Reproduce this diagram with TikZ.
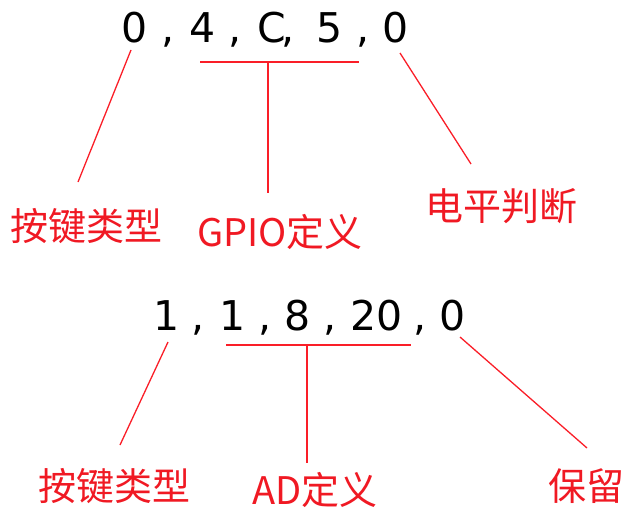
\documentclass[tikz,border=0pt]{standalone}
\usepackage{fontspec}
\setmainfont{DejaVu Sans}
\newfontfamily\cjk{Noto Sans CJK SC}
\definecolor{lnred}{RGB}{250,30,40}
\definecolor{lblred}{RGB}{240,25,35}
\begin{document}
\begin{tikzpicture}[x=1pt,y=-1pt,
  ch/.style={inner sep=0pt,anchor=base,font=\fontsize{41}{41}\selectfont},
  lbl/.style={inner sep=0pt,text=lblred,font=\cjk\fontsize{38}{38}\selectfont},
  ln/.style={draw=lnred,line width=1.3pt}]
\useasboundingbox (0,0) rectangle (624,511);
% top row
\node[ch] (t1) at (135,43) {0};
\node[ch] (t2) at (168,43) {,};
\node[ch] (t3) at (203,43) {4};
\node[ch] (t4) at (235,43) {,};
\node[ch] (t5) at (272,43) {C};
\node[ch] (t6) at (288,43) {,};
\node[ch] (t7) at (330,43) {5};
\node[ch] (t8) at (363,43) {,};
\node[ch] (t9) at (396,43) {0};
% bottom row
\node[ch] (b1) at (167,330) {1};
\node[ch] (b2) at (198,330) {,};
\node[ch] (b3) at (233,330) {1};
\node[ch] (b4) at (265,330) {,};
\node[ch] (b5) at (298,330) {8};
\node[ch] (b6) at (330,330) {,};
\node[ch] (b7) at (377,330) {20};
\node[ch] (b8) at (420,330) {,};
\node[ch] (b9) at (453,330) {0};
% labels
\node[lbl] (L1) at (86,226) {按键类型};
\node[lbl] (L2) at (280,232) {GPIO定义};
\node[lbl] (L3) at (501,206) {电平判断};
\node[lbl] (L4) at (114,486) {按键类型};
\node[lbl] (L5) at (315,490) {AD定义};
\node[lbl] (L6) at (586,486) {保留};
% connector coordinates
\coordinate (a1) at (131,50);  \coordinate (a2) at (78,182);
\coordinate (h1) at (200,62);  \coordinate (h2) at (359,62);
\coordinate (hm) at (268,62);  \coordinate (hv) at (268,193);
\coordinate (r1) at (400,53);  \coordinate (r2) at (471,164);
\coordinate (c1) at (168,342); \coordinate (c2) at (120,445);
\coordinate (g1) at (226,345); \coordinate (g2) at (411,345);
\coordinate (gm) at (307,345); \coordinate (gv) at (307,463);
\coordinate (s1) at (460,337); \coordinate (s2) at (587,448);
\draw[ln] (a1) -- (a2);
\draw[ln] (h1) -- (h2);
\draw[ln] (hm) -- (hv);
\draw[ln] (r1) -- (r2);
\draw[ln] (c1) -- (c2);
\draw[ln] (g1) -- (g2);
\draw[ln] (gm) -- (gv);
\draw[ln] (s1) -- (s2);
\end{tikzpicture}
\end{document}
